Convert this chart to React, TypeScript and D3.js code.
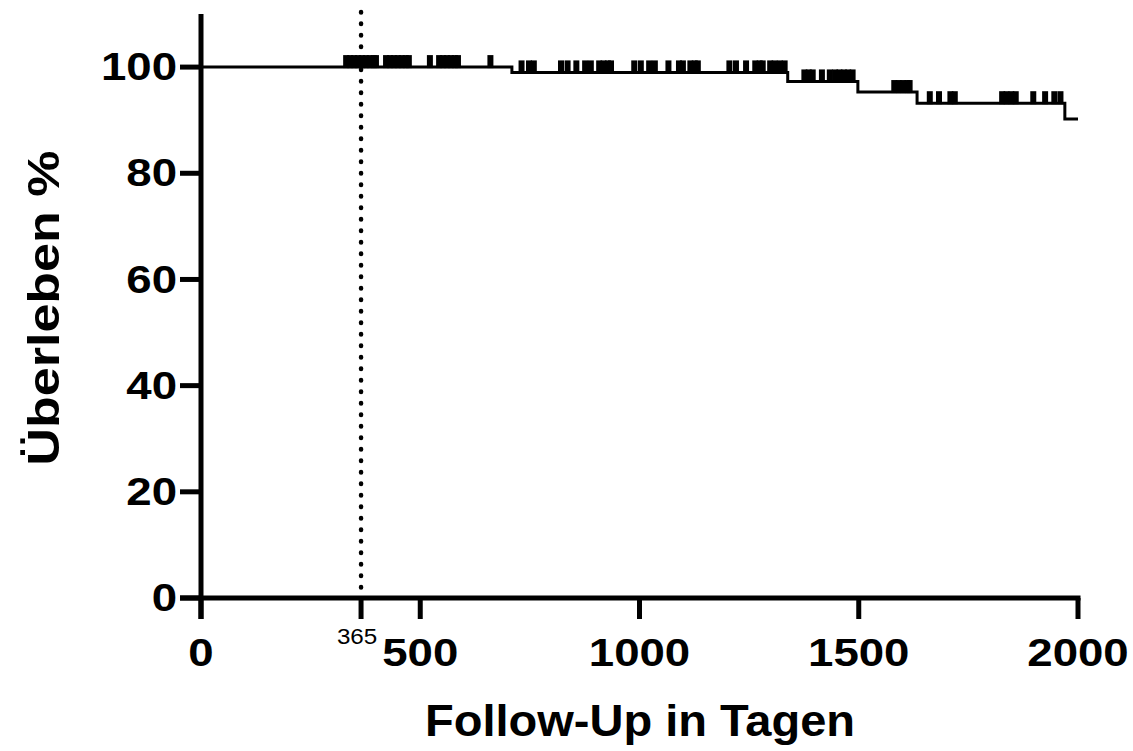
import React from "react";
import * as d3 from "d3";

// Kaplan-Meier steps (day of drop -> survival % after drop)
const stepDays = [0, 709, 1338, 1498, 1633, 1970];
const stepSurvival = [100, 99.0, 97.3, 95.3, 93.2, 90.2];
const lastDay = 2000;

// censored observations (days)
const censorDays = [
  331, 340, 349, 358, 367, 376, 385, 394, 399,
  422, 431, 440, 449, 458, 467, 474,
  522, 543, 552, 561, 570, 579, 586, 660,
  731, 748, 759, 821, 836, 856, 876, 889,
  908, 918, 928, 935, 988, 1003, 1022, 1035,
  1066, 1090, 1099, 1116, 1126, 1133,
  1205, 1220, 1243, 1264, 1274, 1281, 1298, 1308, 1320, 1331,
  1376, 1386, 1395, 1416, 1434, 1446, 1456, 1466, 1476, 1486,
  1581, 1591, 1601, 1611, 1616,
  1662, 1683, 1709, 1719, 1827, 1837, 1848, 1858, 1898, 1925, 1946, 1960,
];

const xTicks = [0, 500, 1000, 1500, 2000];
const yTicks = [0, 20, 40, 60, 80, 100];
const markerDay = 365;

const W = 1133;
const H = 751;
const font = "'Liberation Sans', Arial, Helvetica, sans-serif";

const x = d3.scaleLinear().domain([0, 2000]).range([201, 1078]);
const y = d3.scaleLinear().domain([0, 110]).range([598, 14]);

const survivalAt = (t: number) => {
  let s = stepSurvival[0];
  stepDays.forEach((d, i) => {
    if (d <= t) s = stepSurvival[i];
  });
  return s;
};

export default function App() {
  React.useEffect(() => {
    document.body.style.margin = "0";
  }, []);

  const pts: [number, number][] = stepDays.map((d, i) => [d, stepSurvival[i]]);
  pts.push([lastDay, stepSurvival[stepSurvival.length - 1]]);
  const line = d3
    .line<[number, number]>()
    .x((d) => x(d[0]))
    .y((d) => y(d[1]))
    .curve(d3.curveStepAfter);

  const axisW = 5;
  const tickLen = 21;
  const stretch = 1.2;

  return (
    <svg width={W} height={H} style={{ display: "block", background: "#fff" }}>
      {/* marker line at 365 days */}
      <line
        x1={x(markerDay)}
        x2={x(markerDay)}
        y1={y(110) - 2}
        y2={y(0)}
        stroke="#000"
        strokeWidth={4.5}
        strokeDasharray="0.5 11"
        strokeLinecap="round"
      />

      {/* survival curve */}
      <path d={line(pts) ?? ""} fill="none" stroke="#000" strokeWidth={3} />
      {censorDays.map((d, i) => (
        <line
          key={i}
          x1={x(d)}
          x2={x(d)}
          y1={y(survivalAt(d)) + 1}
          y2={y(survivalAt(d)) - 12}
          stroke="#000"
          strokeWidth={6}
        />
      ))}

      {/* y axis */}
      <line x1={x(0)} x2={x(0)} y1={y(110)} y2={y(0) + tickLen} stroke="#000" strokeWidth={axisW} />
      {yTicks.map((t) => (
        <g key={t}>
          <line x1={x(0) - tickLen} x2={x(0)} y1={y(t)} y2={y(t)} stroke="#000" strokeWidth={axisW} />
          <text
            transform={`translate(${x(0) - tickLen - 3}, ${y(t)}) scale(${stretch},1)`}
            textAnchor="end"
            dominantBaseline="central"
            fontFamily={font}
            fontWeight="bold"
            fontSize={38}
          >
            {t}
          </text>
        </g>
      ))}

      {/* x axis */}
      <line x1={x(0) - tickLen} x2={x(2000) + axisW / 2} y1={y(0)} y2={y(0)} stroke="#000" strokeWidth={axisW} />
      {[...xTicks, markerDay].map((t) => (
        <line key={t} x1={x(t)} x2={x(t)} y1={y(0)} y2={y(0) + tickLen} stroke="#000" strokeWidth={axisW} />
      ))}
      {xTicks.map((t) => (
        <text
          key={t}
          transform={`translate(${x(t)}, ${y(0) + 68}) scale(${stretch},1)`}
          textAnchor="middle"
          fontFamily={font}
          fontWeight="bold"
          fontSize={38}
        >
          {t}
        </text>
      ))}
      <text
        transform={`translate(${x(markerDay) - 4}, ${y(0) + 46}) scale(1.1,1)`}
        textAnchor="middle"
        fontFamily={font}
        fontSize={22}
      >
        {markerDay}
      </text>

      {/* axis titles */}
      <text
        x={640}
        y={736}
        textAnchor="middle"
        fontFamily={font}
        fontWeight="bold"
        fontSize={45}
        textLength={430}
        lengthAdjust="spacingAndGlyphs"
      >
        Follow-Up in Tagen
      </text>
      <text
        transform={`translate(59, ${y(55) + 2}) rotate(-90)`}
        textAnchor="middle"
        fontFamily={font}
        fontWeight="bold"
        fontSize={45}
        textLength={315}
        lengthAdjust="spacingAndGlyphs"
      >
        Überleben %
      </text>
    </svg>
  );
}
